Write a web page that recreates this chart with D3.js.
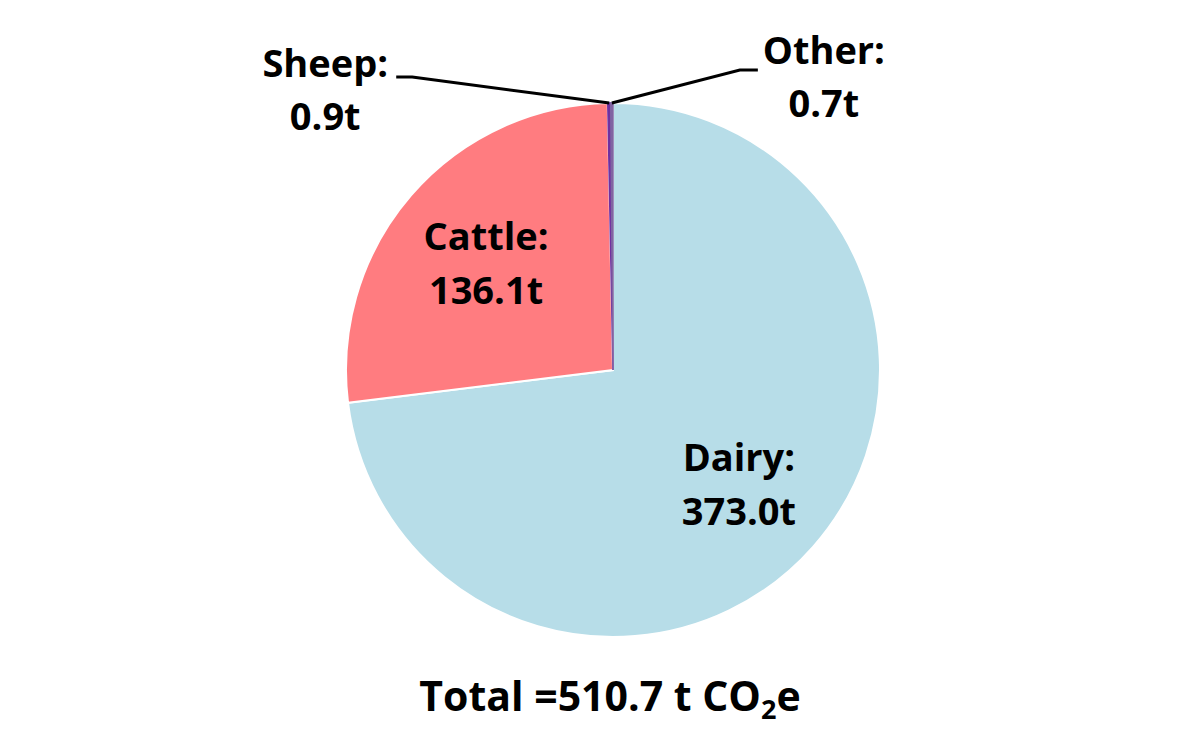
<!DOCTYPE html>
<html>
<head>
<meta charset="utf-8">
<script src="https://cdn.jsdelivr.net/npm/d3@7"></script>
<style>
  body { margin: 0; background: #fff; }
  text { font-family: "Open Sans", sans-serif; font-weight: 700; fill: #000; }
</style>
</head>
<body>
<svg id="chart" width="1180" height="744"></svg>
<script>
const categories = ["Dairy", "Cattle", "Sheep", "Other"];
const values = [373.0, 136.1, 0.9, 0.7];
const colors = ["#B7DDE8", "#FF7C80", "#7030A0", "#8064A2"];
const totalLabel = "510.7";

const width = 1180, height = 744;
const cx = 613, cy = 370, radius = 267;

const svg = d3.select("#chart");
const g = svg.append("g").attr("transform", `translate(${cx},${cy})`);

const pie = d3.pie().sort(null).value((d) => d.value);
const data = categories.map((c, i) => ({ name: c, value: values[i], color: colors[i] }));
const arcs = pie(data);

const arc = d3.arc().innerRadius(0).outerRadius(radius);
const labelArc = d3.arc().innerRadius(168 * 2 - radius).outerRadius(radius);

// slivers get an outline in their own colour so they stay visible
g.selectAll("path.slice")
  .data(arcs)
  .join("path")
  .attr("class", "slice")
  .attr("d", arc)
  .attr("fill", (d) => d.data.color)
  .attr("stroke", (d) => (d.data.value > 50 ? "#fff" : d.data.color))
  .attr("stroke-width", (d) => (d.data.value > 50 ? 2 : 1.5));

// inside labels for the big slices
const inside = arcs.filter((d) => d.data.value > 50);
inside.forEach((d) => {
  const [x, y] = labelArc.centroid(d);
  const t = g.append("text").attr("text-anchor", "middle").style("font-size", "38px");
  t.append("tspan").attr("x", x).attr("y", y - 10).text(d.data.name + ":");
  t.append("tspan").attr("x", x).attr("y", y + 44).text(d.data.value.toFixed(1) + "t");
});

// outside labels with leader lines for the tiny slices
const outside = arcs.filter((d) => d.data.value <= 50);
const offsets = {
  Sheep: { knee: [-197, -26], end: [-213, -26], text: [-284, 0] },
  Other: { knee: [128, -33], end: [146, -33], text: [212, -13] }
};
outside.forEach((d) => {
  const mid = (d.startAngle + d.endAngle) / 2;
  const p = [radius * Math.sin(mid), -radius * Math.cos(mid)];
  const o = offsets[d.data.name];
  const pts = [p, [p[0] + o.knee[0], p[1] + o.knee[1]], [p[0] + o.end[0], p[1] + o.end[1]]];
  g.append("path")
    .attr("d", d3.line()(pts))
    .attr("fill", "none")
    .attr("stroke", "#000")
    .attr("stroke-width", 3);
  const tx = p[0] + o.text[0], ty = p[1] + o.text[1];
  const t = g.append("text").attr("text-anchor", "middle").style("font-size", "38px");
  t.append("tspan").attr("x", tx).attr("y", ty - 26).text(d.data.name + ":");
  t.append("tspan").attr("x", tx).attr("y", ty + 27).text(d.data.value.toFixed(1) + "t");
});

// total
const total = svg.append("text")
  .attr("x", 610)
  .attr("y", 711)
  .attr("text-anchor", "middle")
  .style("font-size", "41px");
total.append("tspan").text(`Total =${totalLabel} t CO`);
total.append("tspan").attr("dy", 8).style("font-size", "27px").text("2");
total.append("tspan").attr("dy", -8).text("e");
</script>
</body>
</html>
